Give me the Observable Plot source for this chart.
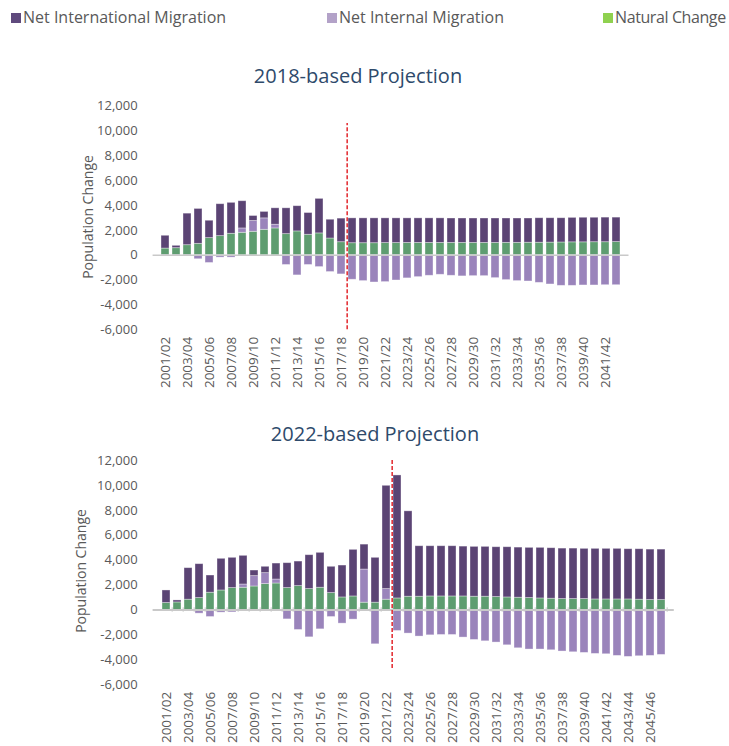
<!DOCTYPE html>
<html>
<head>
<meta charset="utf-8">
<script src="https://cdn.jsdelivr.net/npm/d3@7"></script>
<script src="https://cdn.jsdelivr.net/npm/@observablehq/plot@0.6"></script>
<style>
  body { margin: 0; background: #fff; }
  #wrap { position: relative; width: 729px; height: 746px; overflow: hidden; font-family: "Open Sans", sans-serif; color: #595959; }
  .leg { position: absolute; top: 7px; font-size: 16px; line-height: 20px; white-space: nowrap; }
  .sw { display: inline-block; width: 10px; height: 10px; margin-right: 2px; vertical-align: 0px; }
  .title { position: absolute; font-size: 20px; color: #2e4a6b; transform: translateX(-50%); white-space: nowrap; }
  .ytitle { position: absolute; font-size: 14px; white-space: nowrap; transform: translate(-50%, -50%) rotate(-90deg); }
  .panel { position: absolute; left: 0; }
</style>
</head>
<body>
<div id="wrap"></div>
<script>
// ---------- data ----------
const series = ["Net International Migration", "Net Internal Migration", "Natural Change"];
const years18 = ["2001/02","2002/03","2003/04","2004/05","2005/06","2006/07","2007/08","2008/09","2009/10","2010/11",
  "2011/12","2012/13","2013/14","2014/15","2015/16","2016/17","2017/18","2018/19","2019/20","2020/21",
  "2021/22","2022/23","2023/24","2024/25","2025/26","2026/27","2027/28","2028/29","2029/30","2030/31",
  "2031/32","2032/33","2033/34","2034/35","2035/36","2036/37","2037/38","2038/39","2039/40","2040/41",
  "2041/42","2042/43"];
const years22 = years18.concat(["2043/44","2044/45","2045/46","2046/47"]);

const natural18 = [540,570,810,920,1380,1540,1730,1810,1890,2050,2160,1700,1920,1650,1760,1350,1050,
  970,970,970,980,980,990,990,990,990,990,990,990,990,990,1000,1000,1010,1010,1020,1030,1040,1040,1050,1050,1060];
const internal18 = [-100,-30,-50,-320,-620,-190,-190,350,870,920,300,-780,-1620,-780,-950,-1350,-1540,
  -1970,-2080,-2190,-2160,-2030,-1860,-1760,-1650,-1570,-1650,-1700,-1680,-1680,-1840,-2000,-2080,-2110,-2220,-2350,-2460,-2460,-2430,-2430,-2410,-2410];
const international18 = [1030,190,2540,2810,1400,2570,2490,2190,400,520,1320,2080,2030,1750,2780,1510,1900,
  2000,2000,2000,1990,1990,1980,1980,1980,1980,1970,1970,1970,1970,1970,1960,1960,1950,1970,1960,1950,1970,1980,1970,1980,1970];

const natural22 = [560,610,830,960,1390,1570,1760,1790,1890,2080,2130,1760,1920,1680,1790,1360,1010,1090,590,590,830,930,1070,
  1070,1090,1090,1090,1090,1070,1070,1040,1010,990,960,930,910,880,880,880,850,850,850,850,830,800,800];
const internal22 = [-100,-30,-50,-290,-560,-210,-190,260,830,880,320,-750,-1600,-2190,-1550,-560,-1090,-770,2660,-2750,850,-1680,-1890,
  -2130,-2030,-2000,-2000,-2210,-2400,-2510,-2610,-2830,-3070,-3170,-3170,-3230,-3330,-3390,-3440,-3520,-3550,-3680,-3760,-3710,-3680,-3600];
const international22 = [1010,160,2530,2720,1380,2540,2430,2300,450,510,1280,2000,1970,2720,2800,2110,2560,3740,2000,3600,8290,9870,6850,
  4050,4030,4030,4030,4000,4000,4000,4000,4030,4020,4030,4060,4050,4050,4050,4030,4060,4060,4060,4030,4050,4050,4050];

const yTicks = [-6000,-4000,-2000,0,2000,4000,6000,8000,10000,12000];
const legendColors = ["#5f4a7d", "#b3a2c8", "#8fd14f"];
const barColors = ["#5b4474", "#9a84bb", "#5e9d70"];

// ---------- build ----------
const wrap = document.getElementById("wrap");

function el(cls, html, style) {
  const d = document.createElement("div");
  d.className = cls; d.innerHTML = html; Object.assign(d.style, style);
  wrap.appendChild(d); return d;
}

// legend
const legX = [11, 327, 603];
series.forEach((s, i) => {
  const style = {left: legX[i] + "px"};
  if (i === 2) style.letterSpacing = "-0.4px";
  el("leg", `<span class="sw" style="background:${legendColors[i]}"></span>${s}`, style);
});

function makeRows(years, nat, intl, intr) {
  const rows = [];
  years.forEach((y, i) => {
    rows.push({year: y, series: "Natural Change", value: nat[i]});
    rows.push({year: y, series: "Net Internal Migration", value: intr[i]});
    rows.push({year: y, series: "Net International Migration", value: intl[i]});
  });
  return rows;
}

function panel({years, rows, top, height, mt, mb, ml, mr, cutYear, ruleTop, ruleBottom, zeroTicks}) {
  const width = 729;
  const step = (width - ml - mr) / years.length;
  const tickYears = years.filter((d, i) => i % 2 === 0);
  const marks = [
    Plot.barY(rows, Plot.stackY({
      x: "year", y: "value", fill: "series",
      order: ["Natural Change", "Net Internal Migration", "Net International Migration"],
      stroke: "#ffffff", strokeOpacity: 0.45, strokeWidth: 0.8
    })),
    Plot.ruleY([0], {stroke: "#c9c9c9", strokeWidth: zeroTicks ? 2 : 1.3}),
  ];
  if (zeroTicks) {
    marks.push(Plot.ruleX(years, {x: d => d, y1: -180, y2: 180, dx: step / 2, stroke: "#c9c9c9", strokeWidth: 1}));
  }
  marks.push(
    Plot.ruleX([cutYear], {x: d => d, y1: ruleBottom, y2: ruleTop, dx: step / 2, stroke: "#e2262c", strokeWidth: 1.5, strokeDasharray: "4,2"}),
    Plot.axisY({ticks: yTicks, tickSize: 0, tickPadding: 15.5, tickFormat: d => d.toLocaleString("en-US"), label: null, fontSize: 13}),
    Plot.axisX({ticks: tickYears, tickSize: 0, tickPadding: 7, tickRotate: -90, label: null, fontSize: 13.5})
  );
  const chart = Plot.plot({
    width, height,
    marginTop: mt, marginBottom: mb, marginLeft: ml, marginRight: mr,
    style: {fontFamily: "Open Sans, sans-serif", color: "#595959", background: "transparent", overflow: "visible"},
    x: {type: "band", domain: years, paddingInner: 0.27, paddingOuter: 0.135, align: 0.5},
    y: {domain: [-6000, 12000]},
    color: {domain: series, range: barColors},
    marks
  });
  chart.classList.add("panel");
  chart.style.top = top + "px";
  wrap.appendChild(chart);
}

// top panel
el("title", "2018-based Projection", {left: "358px", top: "62px"});
el("ytitle", "Population Change", {left: "87px", top: "217px"});
panel({years: years18, rows: makeRows(years18, natural18, international18, internal18),
  top: 90, height: 304, mt: 15.7, mb: 64.7, ml: 152.6, mr: 100.5,
  cutYear: "2017/18", ruleTop: 10600, ruleBottom: -6000, zeroTicks: false});

// bottom panel
el("title", "2022-based Projection", {left: "375px", top: "420px"});
el("ytitle", "Population Change", {left: "80px", top: "571px"});
panel({years: years22, rows: makeRows(years22, natural22, international22, internal22),
  top: 445, height: 301, mt: 15, mb: 61.7, ml: 152.6, mr: 55.2,
  cutYear: "2021/22", ruleTop: 12100, ruleBottom: -4700, zeroTicks: true});
</script>
</body>
</html>
